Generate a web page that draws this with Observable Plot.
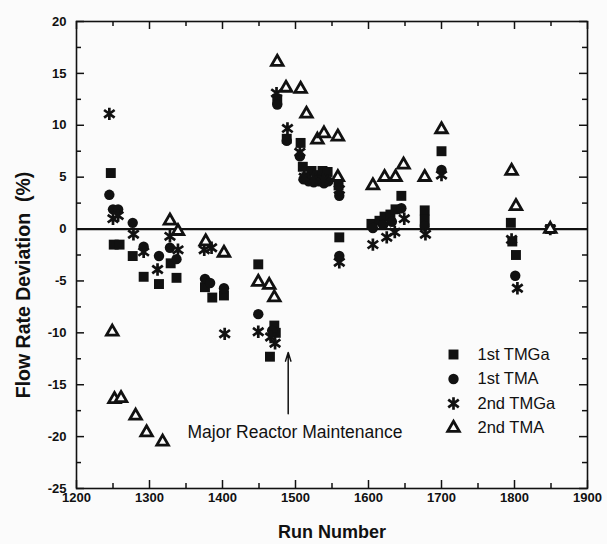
<!DOCTYPE html>
<html>
<head>
<meta charset="utf-8">
<script src="https://cdn.jsdelivr.net/npm/d3@7"></script>
<script src="https://cdn.jsdelivr.net/npm/@observablehq/plot@0.6"></script>
<style>
  html, body { margin: 0; padding: 0; background: #fbfbfb; }
</style>
</head>
<body>
<div id="chart"></div>
<script>
// ---- data (run number, flow rate deviation %) ----
const tmga1st = [
  [1247,5.4],[1251,-1.5],[1259,-1.5],[1277,-2.6],[1292,-4.6],[1313,-5.3],[1329,-3.3],[1337,-4.7],
  [1376,-5.6],[1386,-6.6],[1402,-6.4],
  [1449,-3.4],[1465,-12.3],[1471,-9.3],[1473,-10.0],
  [1475,12.5],[1488,8.7],[1507,8.3],[1510,6.0],[1515,5.0],[1522,5.6],[1530,5.2],[1537,5.6],[1544,5.5],
  [1559,4.2],[1560,-0.8],
  [1604,0.5],[1615,0.8],[1622,1.2],[1630,1.4],[1637,1.9],[1645,3.2],
  [1677,1.8],[1677,0.9],[1700,7.5],[1795,0.6],[1797,-1.2],[1802,-2.5],[1849,0]
];
const tma1st = [
  [1245,3.3],[1250,1.9],[1257,1.9],[1277,0.6],[1292,-1.7],[1313,-2.6],[1328,-1.8],[1337,-2.9],
  [1376,-4.8],[1383,-5.2],[1402,-5.7],
  [1449,-8.2],[1468,-9.8],
  [1475,12.0],[1488,8.5],[1506,7.0],[1511,4.8],[1518,4.6],[1525,4.5],[1532,4.6],[1539,4.4],[1545,4.6],
  [1560,3.2],[1560,-2.6],
  [1606,0.1],[1620,0.4],[1632,0.7],[1645,2.0],
  [1677,0.3],[1700,5.7],[1801,-4.5],[1849,0]
];
const tmga2nd = [
  [1245,11.1],[1250,1.0],[1257,1.3],[1278,-0.5],[1292,-2.2],[1311,-3.9],[1328,-0.7],[1339,-2.0],
  [1375,-2.0],[1385,-1.8],[1403,-10.1],
  [1449,-9.9],[1466,-10.4],[1472,-11.0],
  [1474,13.1],[1489,9.7],[1506,7.4],[1512,5.0],[1524,4.8],[1538,4.8],[1560,3.8],[1560,-3.2],
  [1606,-1.5],[1625,-0.8],[1636,-0.3],[1649,1.0],
  [1678,-0.5],[1700,5.2],[1796,-1.0],[1804,-5.7],[1849,0]
];
const tma2nd = [
  [1249,-9.9],[1252,-16.4],[1261,-16.3],[1281,-18.0],[1296,-19.6],[1318,-20.5],[1328,0.8],[1339,-0.2],
  [1377,-1.2],[1402,-2.3],[1449,-5.1],[1464,-5.4],[1471,-6.6],
  [1475,16.1],[1487,13.6],[1507,13.5],[1515,11.1],[1530,8.6],[1539,9.2],[1558,8.9],[1558,5.0],
  [1606,4.2],[1622,5.0],[1637,5.0],[1648,6.2],[1677,5.0],[1700,9.6],[1796,5.6],[1802,2.2],[1849,0]
];

const xTicks = [1200,1300,1400,1500,1600,1700,1800,1900];
const xMinor = [1250,1350,1450,1550,1650,1750,1850];
const yTicks = [-25,-20,-15,-10,-5,0,5,10,15,20];
const yMinor = [-22.5,-17.5,-12.5,-7.5,-2.5,2.5,7.5,12.5,17.5];

const legendLabels = ["1st TMGa","1st TMA","2nd TMGa","2nd TMA"];
const annotation = [{run: 1490, from: -17.8, to: -11.9, textRun: 1352, textY: -19.6, label: "Major Reactor Maintenance"}];

// ---- layout ----
const W = 607, H = 544, mL = 76, mR = 20, mT = 21, mB = 56;
const innerH = H - mT - mB, innerW = W - mL - mR;

const asteriskSym = {
  draw(ctx, size) {
    const r = Math.sqrt(size / Math.PI);
    const a = r * 0.85, b = r * 0.62;
    ctx.moveTo(0, -r); ctx.lineTo(0, r);
    ctx.moveTo(-a, -b); ctx.lineTo(a, b);
    ctx.moveTo(-a, b); ctx.lineTo(a, -b);
  }
};

const styles = [
  {symbol: "square", r: 5.6, fill: "#111", stroke: "none", strokeWidth: 0},
  {symbol: "circle", r: 5.2, fill: "#111", stroke: "none", strokeWidth: 0},
  {symbol: asteriskSym, r: 6.2, fill: "none", stroke: "#111", strokeWidth: 2.7},
  {symbol: "triangle", r: 4.3, fill: "#fbfbfb", stroke: "#111", strokeWidth: 2.8}
];
const series = [tmga1st, tma1st, tmga2nd, tma2nd];

const dotMarks = series.map((s, i) => Plot.dot(s, {x: d => d[0], y: d => d[1], ...styles[i]}));

const legendMarks = [];
legendLabels.forEach((lab, i) => {
  const dy = -134 + i * 24.5;
  legendMarks.push(Plot.dot([lab], {frameAnchor: "bottom-right", dx: -134, dy, ...styles[i]}));
  legendMarks.push(Plot.text([lab], {frameAnchor: "bottom-right", dx: -110, dy, text: d => d,
    textAnchor: "start", lineAnchor: "middle", fontSize: 16.5, fill: "#111"}));
});

const tickLen = 8, minorLen = 5;

const chart = Plot.plot({
  width: W, height: H, marginLeft: mL, marginRight: mR, marginTop: mT, marginBottom: mB,
  style: {background: "#fbfbfb", fontFamily: "'Liberation Sans', Arial, sans-serif", color: "#111"},
  x: {domain: [1200, 1900]},
  y: {domain: [-25, 20]},
  marks: [
    Plot.axisX({ticks: xTicks, tickSize: 0, tickPadding: 4, fontSize: 13, fontWeight: "bold",
      tickFormat: d => String(d), label: null}),
    Plot.axisY({ticks: yTicks, tickSize: 0, tickPadding: 10, fontSize: 13, fontWeight: "bold",
      tickFormat: d => String(d), label: null}),
    // inward ticks
    Plot.tickX(xTicks, {x: d => d, insetTop: innerH - tickLen, stroke: "#111", strokeWidth: 1.5}),
    Plot.tickX(xTicks, {x: d => d, insetBottom: innerH - tickLen, stroke: "#111", strokeWidth: 1.5}),
    Plot.tickX(xMinor, {x: d => d, insetTop: innerH - minorLen, stroke: "#111", strokeWidth: 1.5}),
    Plot.tickX(xMinor, {x: d => d, insetBottom: innerH - minorLen, stroke: "#111", strokeWidth: 1.5}),
    Plot.tickY(yTicks, {y: d => d, insetRight: innerW - tickLen, stroke: "#111", strokeWidth: 1.5}),
    Plot.tickY(yTicks, {y: d => d, insetLeft: innerW - tickLen, stroke: "#111", strokeWidth: 1.5}),
    Plot.tickY(yMinor, {y: d => d, insetRight: innerW - minorLen, stroke: "#111", strokeWidth: 1.5}),
    Plot.tickY(yMinor, {y: d => d, insetLeft: innerW - minorLen, stroke: "#111", strokeWidth: 1.5}),
    Plot.frame({stroke: "#111", strokeWidth: 1.6}),
    Plot.ruleY([0], {stroke: "#111", strokeWidth: 2.2}),
    ...dotMarks,
    Plot.arrow(annotation, {x1: "run", x2: "run", y1: "from", y2: "to", stroke: "#111",
      strokeWidth: 1.5, headLength: 9, headAngle: 35}),
    Plot.text(annotation, {x: "textRun", y: "textY", text: "label", textAnchor: "start",
      fontSize: 17.5, fill: "#111"}),
    ...legendMarks,
    Plot.text(["Run Number"], {frameAnchor: "bottom", dy: 44, text: d => d, fontSize: 18,
      textAnchor: "middle", lineAnchor: "middle", fontWeight: "bold", fill: "#111"}),
    Plot.text(["Flow Rate Deviation  (%)"], {frameAnchor: "left", dx: -53, dy: 30, rotate: -90,
      textAnchor: "middle", lineAnchor: "middle",
      text: d => d, fontSize: 19.5, fontWeight: "bold", fill: "#111"})
  ]
});
document.getElementById("chart").appendChild(chart);
</script>
</body>
</html>
